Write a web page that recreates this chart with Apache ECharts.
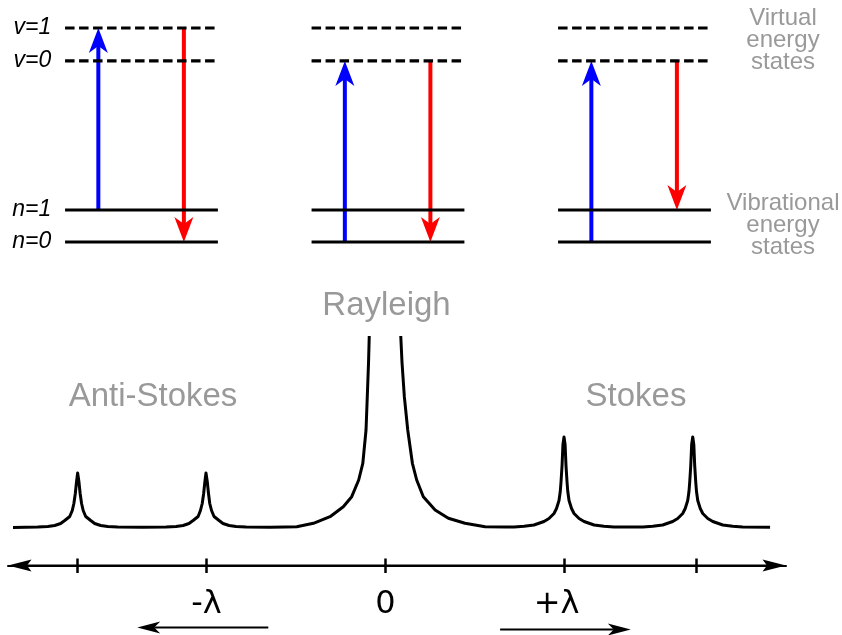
<!DOCTYPE html>
<html>
<head>
<meta charset="utf-8">
<script src="https://cdn.jsdelivr.net/npm/echarts@6/dist/echarts.min.js"></script>
<style>
  html, body { margin: 0; padding: 0; background: #fff; }
  #chart { width: 842px; height: 635px; }
</style>
</head>
<body>
<div id="chart"></div>
<script>
// ---- Energy levels (arbitrary energy units) ----
const levelNames = ['n=0', 'n=1', 'v=0', 'v=1'];
const levelEnergy = [0, 1, 5.66, 6.69];
const levelDashed = [false, false, true, true];

// ---- Scattering processes ----
const panels = ['Anti-Stokes', 'Rayleigh', 'Stokes'];
// excitation (blue, upward): level index from -> to
const excitationFrom = [1, 0, 0];
const excitationTo = [3, 2, 2];
// emission (red, downward): level index from -> to
const emissionFrom = [3, 2, 2];
const emissionTo = [0, 0, 1];

// ---- Spectrum: shift (λ = 100) vs intensity ----
const shift = [
  -208.1, -194.3, -188.7, -184.8, -181.5, -179.2, -176.4, -175.0, -174.1, -173.3, -172.6, -172.0,
  -171.3, -170.6, -169.8, -168.9, -167.5, -164.7, -162.5, -159.1, -155.2, -149.6, -136.0,
  -122.6, -117.0, -113.1, -109.8, -107.5, -104.7, -103.4, -102.4, -101.6, -100.9, -100.3,
  -99.6, -98.9, -98.2, -97.2, -95.8, -93.0, -90.8, -87.4, -83.5, -77.9,
  -64.5, -56.1,
  -49.6, -40.3, -31.0, -23.6, -18.9, -15.0, -12.7, -10.9, -10.2, -9.5, -9.1,
  0,
  8.5, 9.2, 10.5, 12.4, 15.0, 17.4, 21.1, 27.7, 35.1, 44.4, 55.6, 66.8,
  71.8, 77.4, 82.9, 88.5, 91.3, 94.1, 95.5, 96.9, 97.6, 98.0, 98.6, 99.1, 99.7,
  100.3, 100.8, 101.4, 101.8, 102.5, 103.9, 105.3, 108.1, 110.9, 116.5, 122.0, 127.6,
  135.5,
  143.7, 149.3, 154.8, 160.4, 163.2, 166.0, 167.4, 168.8, 169.5, 169.9, 170.5, 171.0, 171.6,
  172.2, 172.7, 173.3, 173.7, 174.4, 175.8, 177.2, 180.0, 182.8, 188.4, 193.9, 199.5,
  214.8
];
const intensity = [
  0, 0.5, 1, 2, 4, 7, 11, 17, 24, 34, 46, 54.5,
  46, 34, 24, 17, 11, 7, 4, 2, 1, 0.5, 0.3,
  0.5, 1, 2, 4, 7, 11, 17, 24, 34, 46, 54.5,
  46, 34, 24, 17, 11, 7, 4, 2, 1, 0.5,
  0.3, 0.5,
  0.8, 4.2, 10.8, 20.8, 30.8, 47.5, 64.2, 97.5, 130.8, 165, 191.5,
  null,
  191.5, 165, 130.8, 97.5, 64.2, 47.5, 30.8, 17.5, 9.2, 4.2, 0.8, 0.4,
  0.5, 1.2, 2.5, 6, 9, 14, 19, 27, 36, 45, 62, 83, 90.5,
  83, 62, 45, 36, 27, 19, 14, 9, 6, 2.5, 1.2, 0.5,
  0.4,
  0.5, 1.2, 2.5, 6, 9, 14, 19, 27, 36, 45, 62, 83, 90.5,
  83, 62, 45, 36, 27, 19, 14, 9, 6, 2.5, 1.2, 0.5,
  0.2
];

// ---- Shift axis ticks and labels ----
const tickValues = [-172, -100, 0, 100, 173.5];
const labelValues = [-100, 0, 100];
const labelTexts = ['-λ', '0', '+λ'];

// ---- Direction arrows under the shift axis ----
const shiftArrowFrom = [-65.5, 64.0];
const shiftArrowTo = [-138.7, 137.0];
const shiftArrowLevel = [-100, -102];

// shift axis extent and the intensity level it sits at
const SHIFT_MIN = -210.9, SHIFT_MAX = 223.7;
const INT_MIN = -38, INT_MAX = 191.5;

const TEXT_FONT = "'Liberation Sans', Arial, sans-serif";
const GRAY = '#999999';

// Arrow: shaft from `from` to the notch, notched head with its tip at `to`
function arrowGraphic(from, to, color, lineWidth, len, notch, half) {
  const dx = to[0] - from[0], dy = to[1] - from[1];
  const L = Math.hypot(dx, dy) || 1;
  const ux = dx / L, uy = dy / L, nx = -uy, ny = ux;
  const back = [to[0] - ux * len, to[1] - uy * len];
  const nb = [to[0] - ux * notch, to[1] - uy * notch];
  return {
    type: 'group',
    children: [
      { type: 'line', shape: { x1: from[0], y1: from[1], x2: nb[0], y2: nb[1] },
        style: { stroke: color, lineWidth: lineWidth } },
      { type: 'polygon',
        shape: { points: [to, [back[0] + nx * half, back[1] + ny * half], nb,
                          [back[0] - nx * half, back[1] - ny * half]] },
        style: { fill: color } }
    ]
  };
}

const levelItems = [];
panels.forEach((_, p) => levelEnergy.forEach((_, l) => levelItems.push([p, l])));

const transitionItems = [];
panels.forEach((_, p) => {
  transitionItems.push([p + 0.325, levelEnergy[excitationFrom[p]], levelEnergy[excitationTo[p]], 0]);
  transitionItems.push([p + 0.672, levelEnergy[emissionFrom[p]], levelEnergy[emissionTo[p]], 1]);
});

const spectrumData = shift.map((x, i) => [x, intensity[i]]);
const shiftArrowItems = shiftArrowFrom.map((x, i) => [x, shiftArrowTo[i], shiftArrowLevel[i]]);
// both ends of the shift axis carry an arrow head
const axisArrowItems = [[0, SHIFT_MIN, INT_MIN], [0, SHIFT_MAX, INT_MIN]];

const chart = echarts.init(document.getElementById('chart'), null, { renderer: 'canvas' });

chart.setOption({
  animation: false,
  backgroundColor: '#ffffff',
  grid: [
    { left: 55.2, right: 84.25, top: 28, bottom: 393 },
    { left: 8, right: 56, top: 336, bottom: 69.5 }
  ],
  xAxis: [
    { type: 'value', gridIndex: 0, min: 0.15, max: 3, show: false },
    {
      type: 'value', gridIndex: 1, min: SHIFT_MIN, max: SHIFT_MAX, position: 'bottom',
      axisLine: { show: true, onZero: false, lineStyle: { color: '#000', width: 2 } },
      axisTick: { show: true, length: 7.5, customValues: tickValues,
                  lineStyle: { color: '#000', width: 2.5 } },
      axisLabel: {
        show: true, customValues: labelValues, margin: 23,
        fontSize: 32, fontFamily: "'DejaVu Sans', sans-serif", color: '#000',
        formatter: v => {
          const t = labelTexts[labelValues.indexOf(v)];
          return v > 0 ? '{r|' + t + '}' : t;
        },
        rich: {
          r: { fontSize: 32, fontFamily: "'DejaVu Sans', sans-serif", color: '#000',
               padding: [0, 16, 0, 0] }
        }
      },
      splitLine: { show: false }
    },
    {
      type: 'value', gridIndex: 1, min: SHIFT_MIN, max: SHIFT_MAX, position: 'bottom',
      axisLine: { show: false, onZero: false },
      axisTick: { show: true, inside: true, length: 7, customValues: tickValues,
                  lineStyle: { color: '#000', width: 2.5 } },
      axisLabel: { show: false },
      splitLine: { show: false }
    }
  ],
  yAxis: [
    {
      type: 'value', gridIndex: 0, min: 0, max: 6.69,
      axisLine: { show: false }, axisTick: { show: false }, splitLine: { show: false },
      axisLabel: {
        show: true, customValues: levelEnergy, margin: 4,
        fontSize: 23, fontStyle: 'italic', fontFamily: TEXT_FONT, color: '#000',
        formatter: v => {
          let best = 0;
          levelEnergy.forEach((e, i) => { if (Math.abs(e - v) < Math.abs(levelEnergy[best] - v)) best = i; });
          return levelNames[best];
        }
      }
    },
    { type: 'value', gridIndex: 1, min: INT_MIN, max: INT_MAX, show: false }
  ],
  series: [
    {
      // transitions: blue excitation, red emission
      type: 'custom', xAxisIndex: 0, yAxisIndex: 0, z: 2, clip: false,
      data: transitionItems,
      renderItem: (params, api) => {
        const x = api.value(0);
        const from = api.coord([x, api.value(1)]);
        const to = api.coord([x, api.value(2)]);
        const color = api.value(3) === 0 ? '#0000ff' : '#ff0000';
        return arrowGraphic(from, to, color, 4, 25, 18, 9.5);
      }
    },
    {
      // energy levels
      type: 'custom', xAxisIndex: 0, yAxisIndex: 0, z: 3, clip: false,
      data: levelItems,
      renderItem: (params, api) => {
        const p = api.value(0), l = api.value(1);
        const a = api.coord([p + 0.19, levelEnergy[l]]);
        const b = api.coord([p + 0.81, levelEnergy[l]]);
        return {
          type: 'line',
          shape: { x1: a[0], y1: a[1], x2: b[0], y2: b[1] },
          style: { stroke: '#000', lineWidth: 3.2, lineDash: levelDashed[l] ? [9.5, 4.5] : null }
        };
      }
    },
    {
      // spectrum
      type: 'line', xAxisIndex: 1, yAxisIndex: 1, z: 3,
      data: spectrumData, symbol: 'none', connectNulls: false, smooth: false,
      lineStyle: { color: '#000', width: 3, join: 'round' }
    },
    {
      // shift direction arrows
      type: 'custom', xAxisIndex: 1, yAxisIndex: 1, z: 3, clip: false,
      data: shiftArrowItems,
      renderItem: (params, api) => {
        const y = api.value(2);
        const from = api.coord([api.value(0), y]);
        const to = api.coord([api.value(1), y]);
        return arrowGraphic(from, to, '#000', 2, 23, 17, 6);
      }
    },
    {
      // arrow heads at the ends of the shift axis
      type: 'custom', xAxisIndex: 1, yAxisIndex: 1, z: 5, clip: false,
      data: axisArrowItems,
      renderItem: (params, api) => {
        const y = api.value(2);
        const from = api.coord([api.value(0), y]);
        const to = api.coord([api.value(1), y]);
        return arrowGraphic(from, to, '#000', 2, 23.5, 19, 6);
      }
    }
  ],
  graphic: [
    { type: 'text', x: 386.5, y: 306, style: { text: panels[1], fill: GRAY, fontSize: 33, fontFamily: TEXT_FONT, align: 'center', verticalAlign: 'middle' } },
    { type: 'text', x: 153, y: 397, style: { text: panels[0], fill: GRAY, fontSize: 33, fontFamily: TEXT_FONT, align: 'center', verticalAlign: 'middle' } },
    { type: 'text', x: 636, y: 397, style: { text: panels[2], fill: GRAY, fontSize: 33, fontFamily: TEXT_FONT, align: 'center', verticalAlign: 'middle' } },
    { type: 'text', x: 783, y: 40, style: { text: 'Virtual\nenergy\nstates', fill: GRAY, fontSize: 24, lineHeight: 22, fontFamily: TEXT_FONT, align: 'center', verticalAlign: 'middle' } },
    { type: 'text', x: 783, y: 225.5, style: { text: 'Vibrational\nenergy\nstates', fill: GRAY, fontSize: 24, lineHeight: 22, fontFamily: TEXT_FONT, align: 'center', verticalAlign: 'middle' } }
  ]
});
</script>
</body>
</html>
